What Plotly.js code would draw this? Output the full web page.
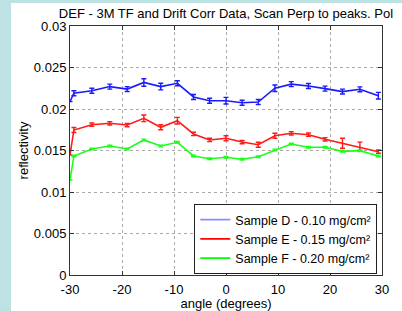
<!DOCTYPE html>
<html>
<head>
<meta charset="utf-8">
<script src="https://cdn.plot.ly/plotly-3.0.1.min.js"></script>
<style>
  html, body { margin: 0; padding: 0; background: #bde2e3; width: 402px; height: 311px; overflow: hidden; }
  #chart { position: absolute; left: 11px; top: 3px; width: 391px; height: 308px; background: #fff; }
</style>
</head>
<body>
<div id="chart"></div>
<script>
const angles = [-30, -29.25, -25.8, -22.35, -19.0, -15.8, -12.55, -9.35, -6.25, -3.15, 0, 3.1, 6.2, 9.4, 12.55, 15.85, 19.05, 22.4, 25.75, 29.3];

const sampleD = [0.0209, 0.0219, 0.0222, 0.0227, 0.0224, 0.0232, 0.0227, 0.0231, 0.02145, 0.0210, 0.0210, 0.02076, 0.02084, 0.0225, 0.0230, 0.02277, 0.02245, 0.0221, 0.02237, 0.0216];
const errD    = [0, 0.0003, 0.0003, 0.0003, 0.0003, 0.00045, 0.0004, 0.0003, 0.0003, 0.0003, 0.0004, 0.0003, 0.0003, 0.0004, 0.0003, 0.0003, 0.0003, 0.0003, 0.0003, 0.0004];

const sampleE = [0.01446, 0.01747, 0.01811, 0.01828, 0.01807, 0.01888, 0.0178, 0.01859, 0.01699, 0.01627, 0.01647, 0.01602, 0.0157, 0.01678, 0.01707, 0.0169, 0.01635, 0.01587, 0.01546, 0.01486];
const errE    = [0, 0.0003, 0.0002, 0.0002, 0.0002, 0.0004, 0.0003, 0.0004, 0.0002, 0.0002, 0.0003, 0.0002, 0.0003, 0.0003, 0.0002, 0.0002, 0.0002, 0.0006, 0.00055, 0.0002];

const sampleF = [0.01145, 0.01434, 0.01518, 0.01554, 0.01518, 0.01627, 0.01554, 0.01599, 0.01434, 0.01401, 0.01418, 0.01394, 0.01425, 0.01506, 0.01578, 0.01539, 0.01539, 0.0149, 0.01498, 0.01434];
const errF    = [0, 0.0001, 0.0001, 0.0001, 0.0001, 0.0001, 0.0001, 0.0001, 0.0001, 0.0001, 0.0001, 0.0001, 0.0001, 0.0001, 0.0001, 0.0001, 0.0001, 0.0001, 0.0001, 0.0001];

const legendNames = ['Sample D - 0.10 mg/cm²', 'Sample E - 0.15 mg/cm²', 'Sample F - 0.20 mg/cm²'];
const xTickVals = [-30, -20, -10, 0, 10, 20, 30];
const xTickText = ['-30', '-20', '-10', '0', '10', '20', '30'];
const yTickVals = [0, 0.005, 0.01, 0.015, 0.02, 0.025, 0.03];
const yTickText = ['0', '0.005', '0.01', '0.015', '0.02', '0.025', '0.03'];

function series(y, err, color) {
  return {
    x: angles, y: y, type: 'scatter', mode: 'lines', showlegend: false,
    line: { color: color, width: 1.6 },
    error_y: { type: 'data', array: err, visible: true, color: color, thickness: 1.4, width: 2.5 }
  };
}
function legendItem(name, color) {
  return { x: [null], y: [null], type: 'scatter', mode: 'lines', name: name, line: { color: color, width: 1.6 } };
}

const data = [
  series(sampleD, errD, '#1a1aff'),
  series(sampleE, errE, '#ff1a1a'),
  series(sampleF, errF, '#1aff1a'),
  legendItem(legendNames[0], '#8c8cff'),
  legendItem(legendNames[1], '#ff0000'),
  legendItem(legendNames[2], '#00ff00')
];

const FONT = 'Liberation Sans, Arial, sans-serif';
const axisCommon = {
  showline: true, linecolor: '#333', linewidth: 1, mirror: 'allticks',
  ticks: 'inside', ticklen: 4, tickcolor: '#333',
  showgrid: true, gridcolor: '#aaa', griddash: 'dot', gridwidth: 1,
  zeroline: false, tickfont: { family: FONT, size: 13, color: '#000' }
};

const layout = {
  width: 391, height: 308,
  margin: { l: 59, r: 20, t: 23, b: 36 },
  paper_bgcolor: '#fff', plot_bgcolor: '#fff',
  font: { family: FONT, size: 13, color: '#000' },
  title: { text: 'DEF - 3M TF and Drift Corr Data, Scan Perp to peaks. Pol', x: 0.5, xref: 'paper', yref: 'container', y: 0.966, yanchor: 'middle', font: { size: 13 } },
  xaxis: Object.assign({}, axisCommon, {
    range: [-30, 30], tickvals: xTickVals, ticktext: xTickText, ticklabelstandoff: 2,
    title: { text: 'angle (degrees)', font: { size: 13 }, standoff: 2 }
  }),
  yaxis: Object.assign({}, axisCommon, {
    range: [0, 0.03], tickvals: yTickVals, ticktext: yTickText,
    title: { text: 'reflectivity', font: { size: 13 }, standoff: 2 }
  }),
  legend: {
    x: 0.985, y: 0.004, xanchor: 'right', yanchor: 'bottom',
    bgcolor: '#fff', bordercolor: '#222', borderwidth: 1,
    font: { size: 12.5 }, itemwidth: 30, tracegroupgap: 0
  }
};

Plotly.newPlot('chart', data, layout, { displayModeBar: false, staticPlot: true });
</script>
</body>
</html>
